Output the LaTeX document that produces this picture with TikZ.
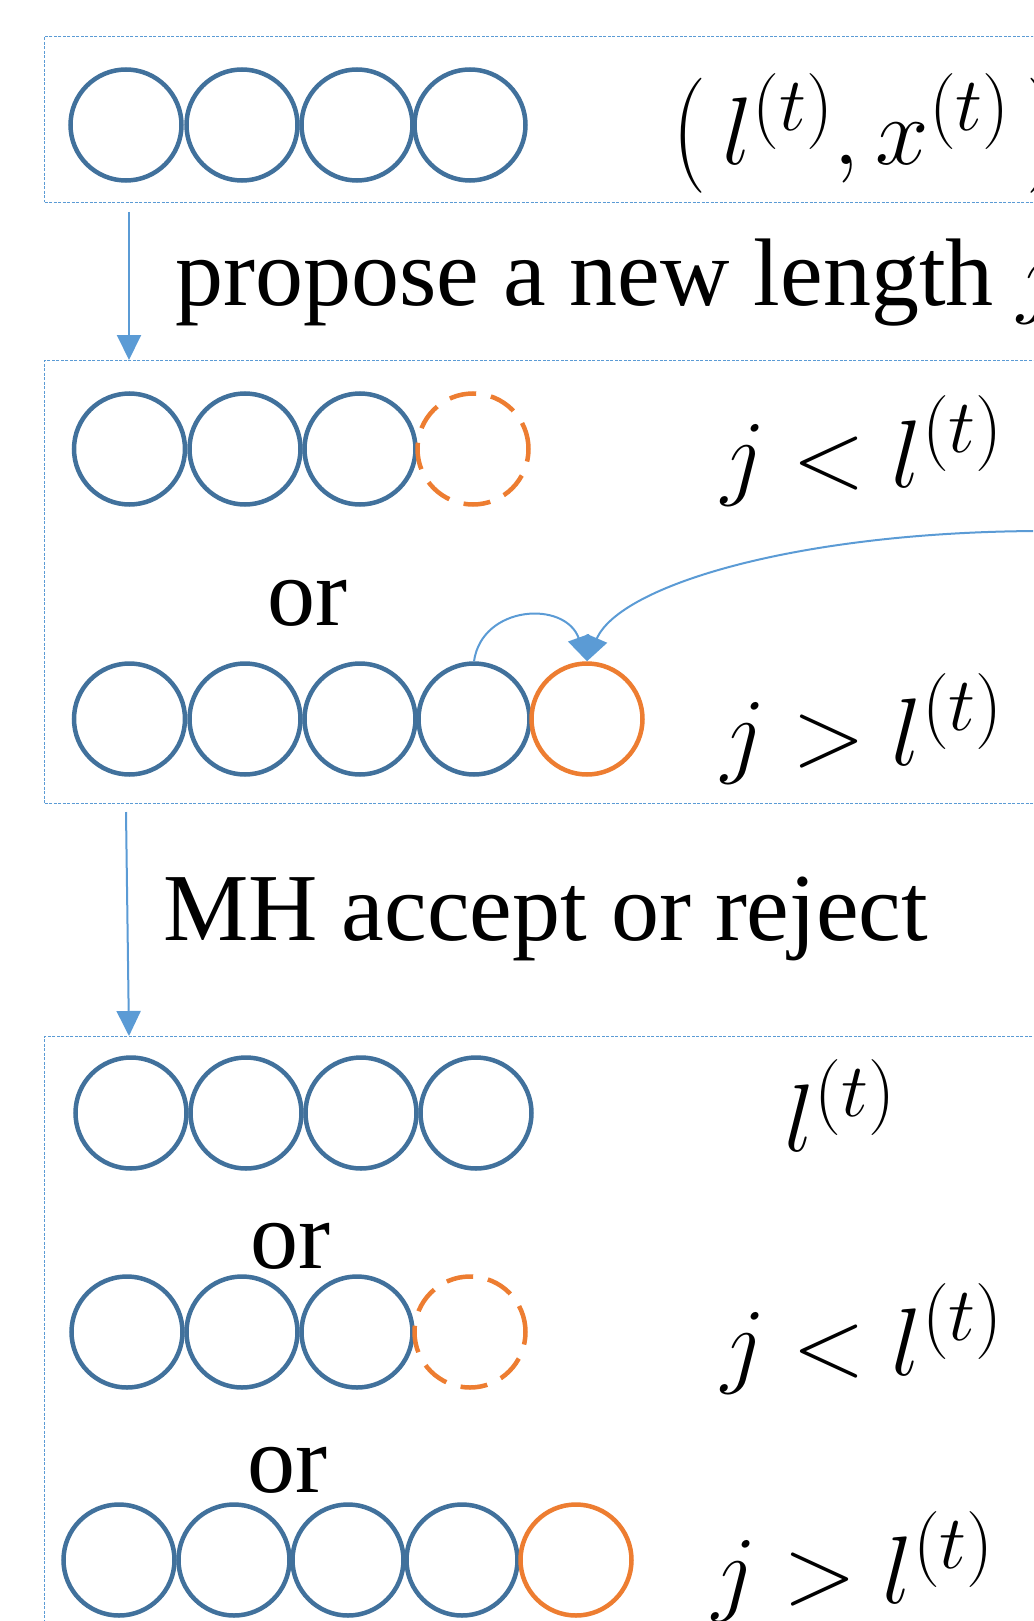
\RequirePackage{fix-cm}
\documentclass[tikz,border=0pt]{standalone}
\usepackage{fontspec}
\setmainfont{Liberation Serif}
\usetikzlibrary{arrows.meta}
\DeclareMathSizes{96}{96}{76}{60}
\definecolor{cblue}{HTML}{41719C}
\definecolor{corange}{HTML}{ED7D31}
\definecolor{lblue}{HTML}{5B9BD5}
\newcommand{\tallparen}[1]{\mathord{\scalebox{1}[1.2]{$#1$}}}
\tikzset{
  blob/.style={circle, draw=cblue, line width=4.5pt, minimum size=111pt, inner sep=0pt},
  oblob/.style={blob, draw=corange},
  dblob/.style={blob, draw=corange, dash pattern=on 27pt off 15pt},
  boxnode/.style={draw=lblue, line width=1pt, dash pattern=on 3pt off 1.5pt, anchor=north west, inner sep=0pt},
  arr/.style={draw=lblue, line width=2pt, -{Triangle[width=24pt,length=25pt]}},
  carr/.style={draw=lblue, line width=2pt, -{Triangle[width=22pt,length=25pt]}},
  txt/.style={font=\fontsize{96}{110}\selectfont, inner sep=0pt, anchor=base west},
}
\begin{document}
\begin{tikzpicture}[x=1pt,y=-1pt]
\clip (0,0) rectangle (1033,1621);
% boxes
\node[boxnode, minimum width=1100pt, minimum height=166pt] (box1) at (44,36) {};
\node[boxnode, minimum width=1100pt, minimum height=443pt] (box2) at (44,360) {};
\node[boxnode, minimum width=1100pt, minimum height=700pt] (box3) at (44,1036) {};
% row 1
\node[blob] (a1) at (126,125) {};
\node[blob] (a2) at (242,125) {};
\node[blob] (a3) at (357,125) {};
\node[blob] (a4) at (470,125) {};
\node[txt] (t1) at (672,165) {$\tallparen{(}\,l^{(t)},x^{(t)}\,\tallparen{)}$};
% arrow 1
\coordinate (s1) at (129,212);
\draw[arr] (s1) -- (s1 |- box2.north);
\node[txt] (p1) at (175,305) {propose a new length $j$};
% row 2a
\node[blob] (b1) at (129.5,449) {};
\node[blob] (b2) at (245,449) {};
\node[blob] (b3) at (360,449) {};
\node[dblob] (b4) at (473,449) {};
\node[txt] (t2) at (721,487) {$j<l^{(t)}$};
\node[txt] (or1) at (267,625) {or};
% row 2b
\node[blob] (c1) at (129.5,719) {};
\node[blob] (c2) at (245,719) {};
\node[blob] (c3) at (360,719) {};
\node[blob] (c4) at (474,719) {};
\node[oblob] (c5) at (587,719) {};
\node[txt] (t3) at (721,765) {$j>l^{(t)}$};
\draw[carr] (c4.north) .. controls (482,605) and (565,600) .. (c5.north);
\coordinate (far) at (1045,531);
\draw[carr] (far) .. controls (800,531) and (620,585) .. (c5.north);
% arrow 2
\coordinate (s2) at (126,812);
\coordinate (e2) at (129,1036);
\draw[arr] (s2) -- (e2);
\node[txt] (p2) at (163,940) {MH accept or reject};
% row 3a
\node[blob] (d1) at (131,1113) {};
\node[blob] (d2) at (246,1113) {};
\node[blob] (d3) at (361,1113) {};
\node[blob] (d4) at (476,1113) {};
\node[txt] (t4) at (784,1151) {$l^{(t)}$};
\node[txt] (or2) at (250,1268) {or};
% row 3b
\node[blob] (e1) at (127,1332) {};
\node[blob] (e2n) at (242,1332) {};
\node[blob] (e3) at (357,1332) {};
\node[dblob] (e4) at (470,1332) {};
\node[txt] (t5) at (721,1375) {$j<l^{(t)}$};
\node[txt] (or3) at (247,1492) {or};
% row 3c
\node[blob] (f1) at (119,1560) {};
\node[blob] (f2) at (234,1560) {};
\node[blob] (f3) at (348,1560) {};
\node[blob] (f4) at (462,1560) {};
\node[oblob] (f5) at (576,1560) {};
\node[txt] (t6) at (712,1603) {$j>l^{(t)}$};
\end{tikzpicture}
\end{document}
